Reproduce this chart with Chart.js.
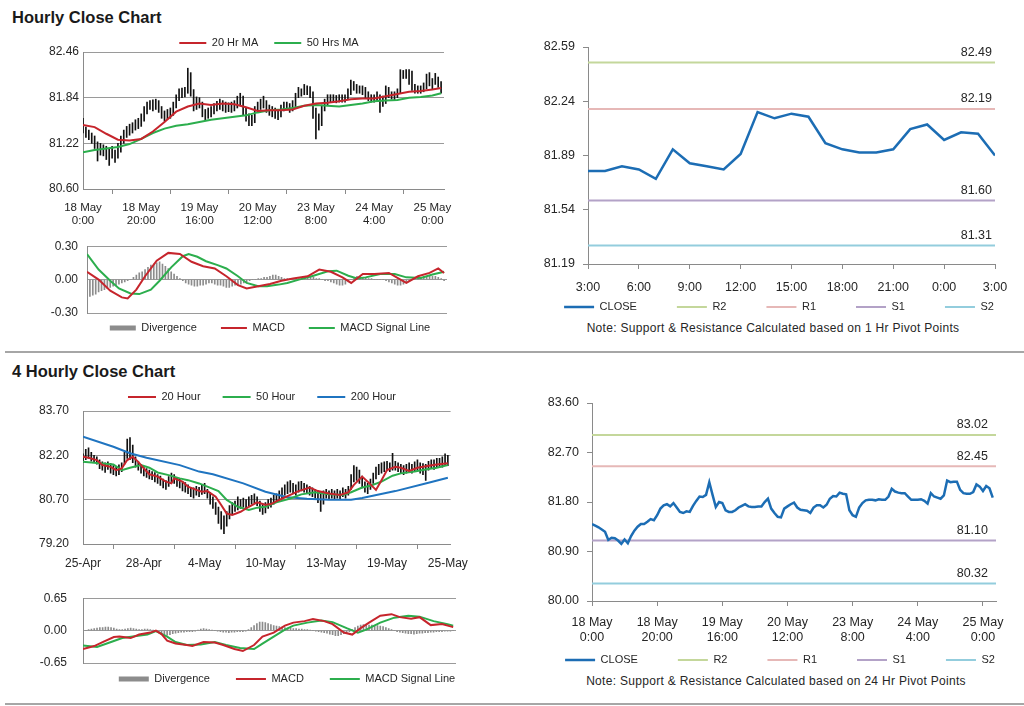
<!DOCTYPE html>
<html><head><meta charset="utf-8">
<script src="https://cdn.jsdelivr.net/npm/chart.js@4.4.0/dist/chart.umd.min.js"></script>
<style>
body{margin:0;width:1024px;height:706px;background:#fff;position:relative;overflow:hidden;font-family:"Liberation Sans",Arial,sans-serif;color:#262626}
canvas{position:absolute}
.title{position:absolute;left:12px;font-weight:bold;font-size:16.5px;line-height:20px;color:#1a1a1a}
.sep{position:absolute;left:5px;width:1019px;height:2px;background:#a6a6a6}
.note{position:absolute;font-size:12px;line-height:16px;text-align:center;white-space:nowrap;width:440px;letter-spacing:0.3px}
</style></head><body>
<div class="title" style="top:7px">Hourly Close Chart</div>
<div class="sep" style="top:351px"></div>
<div class="title" style="top:361px">4 Hourly Close Chart</div>
<div class="sep" style="top:703px"></div>
<div class="note" style="left:553px;top:320px">Note: Support &amp; Resistance Calculated based on 1 Hr Pivot Points</div>
<div class="note" style="left:556px;top:673px">Note: Support &amp; Resistance Calculated based on 24 Hr Pivot Points</div>
<canvas id="cA" width="470" height="210" style="left:0;top:25px"></canvas>
<canvas id="cB" width="470" height="110" style="left:0;top:230px"></canvas>
<canvas id="cC" width="600" height="310" style="left:525px;top:30px"></canvas>
<canvas id="cD" width="475" height="200" style="left:0;top:380px"></canvas>
<canvas id="cE" width="475" height="120" style="left:0;top:575px"></canvas>
<canvas id="cF" width="600" height="310" style="left:525px;top:385px"></canvas>
<script>
// ---------- Hourly data (18 May 0:00 -> 25 May), 124 hourly bars ----------
const hrTickPos = [0, 20, 40, 60, 80, 100, 120];
const hrTickLabels = [['18 May','0:00'],['18 May','20:00'],['19 May','16:00'],['20 May','12:00'],['23 May','8:00'],['24 May','4:00'],['25 May','0:00']];
const hrYTicks = [80.60, 81.22, 81.84, 82.46];
const hrHigh = [
81.56,81.44,81.40,81.36,81.32,81.24,81.22,81.20,81.18,81.14,
81.18,81.13,81.22,81.32,81.40,81.45,81.48,81.50,81.54,81.56,
81.62,81.72,81.78,81.80,81.81,81.82,81.80,81.72,81.66,81.68,
81.70,81.78,81.88,81.96,81.97,81.98,82.24,82.18,81.95,81.85,
81.84,81.78,81.68,81.70,81.72,81.76,81.79,81.82,81.80,81.78,
81.77,81.78,81.80,81.86,81.90,81.86,81.70,81.62,81.60,81.72,
81.78,81.82,81.86,81.80,81.74,81.72,81.70,81.68,81.74,81.78,
81.78,81.76,81.80,81.90,81.98,81.96,82.02,82.00,81.99,81.92,
81.70,81.62,81.74,81.82,81.88,81.88,81.88,81.87,81.88,81.88,
81.88,81.96,82.08,82.06,82.02,82.00,82.00,81.98,81.92,81.88,
81.88,81.92,81.88,81.86,82.00,81.98,81.92,81.92,81.96,82.22,
82.21,82.22,82.22,82.20,82.02,82.00,82.00,82.04,82.16,82.18,
82.10,82.17,82.12,82.06];
const hrLow = [
81.36,81.30,81.27,81.22,81.15,80.98,81.06,81.05,81.00,80.92,
81.02,80.96,81.02,81.10,81.22,81.30,81.33,81.36,81.40,81.42,
81.45,81.52,81.62,81.68,81.66,81.68,81.64,81.56,81.52,81.55,
81.56,81.60,81.70,81.80,81.84,81.85,81.90,81.86,81.66,81.68,
81.70,81.58,81.54,81.56,81.58,81.62,81.66,81.68,81.66,81.64,
81.65,81.64,81.66,81.70,81.74,81.60,81.52,81.46,81.46,81.50,
81.64,81.68,81.70,81.64,81.60,81.58,81.56,81.54,81.58,81.66,
81.68,81.64,81.66,81.72,81.84,81.86,81.88,81.88,81.84,81.56,
81.28,81.40,81.46,81.66,81.74,81.78,81.78,81.77,81.78,81.78,
81.78,81.82,81.88,81.94,81.90,81.90,81.88,81.84,81.80,81.78,
81.78,81.80,81.64,81.72,81.76,81.84,81.82,81.80,81.84,81.90,
82.10,82.10,82.02,81.94,81.90,81.90,81.90,81.92,81.96,82.00,
81.96,82.02,81.98,81.90];
const hrClose = [
81.40,81.37,81.34,81.30,81.26,81.11,81.15,81.14,81.10,81.04,
81.12,81.05,81.18,81.28,81.35,81.40,81.40,81.44,81.49,81.47,
81.56,81.68,81.74,81.76,81.72,81.78,81.70,81.62,81.60,81.63,
81.62,81.73,81.82,81.90,81.89,81.93,82.16,81.93,81.71,81.80,
81.78,81.65,81.62,81.62,81.65,81.70,81.73,81.76,81.72,81.71,
81.71,81.72,81.72,81.80,81.86,81.68,81.60,81.53,81.52,81.68,
81.72,81.76,81.79,81.70,81.66,81.65,81.64,81.60,81.70,81.74,
81.74,81.70,81.75,81.86,81.91,81.90,81.97,81.95,81.94,81.65,
81.56,81.53,81.70,81.78,81.83,81.84,81.84,81.83,81.85,81.84,
81.84,81.90,82.04,81.99,81.97,81.96,81.96,81.90,81.84,81.84,
81.84,81.85,81.82,81.77,81.96,81.90,81.88,81.86,81.92,82.19,
82.16,82.17,82.17,82.02,81.96,81.95,81.95,81.98,82.12,82.08,
82.00,82.09,82.05,81.88];
const hrMaIdx = [0,4,8,12,16,20,24,28,32,36,40,44,48,52,56,60,64,68,72,76,80,84,88,92,96,100,104,108,112,116,120,123];
const hrMa20 = [81.47,81.44,81.35,81.27,81.26,81.28,81.38,81.51,81.65,81.72,81.76,81.74,81.76,81.75,81.71,81.66,81.67,81.67,81.68,81.73,81.76,81.77,81.79,81.82,81.83,81.83,81.86,81.89,81.92,81.93,81.95,81.97];
const hrMa50 = [81.10,81.13,81.15,81.17,81.21,81.28,81.36,81.42,81.46,81.48,81.51,81.54,81.56,81.58,81.60,81.64,81.67,81.68,81.70,81.73,81.74,81.73,81.72,81.74,81.76,81.79,81.80,81.81,81.84,81.85,81.87,81.90];
const hrMacdYTicks = [-0.30, 0.00, 0.30];
const hrMacdIdx = [0,4,8,12,14,17,20,24,28,32,36,40,44,48,52,55,59,63,67,71,76,80,84,88,91,95,99,104,108,110,114,118,121,123];
const hrMacd = [0.07,0.00,-0.10,-0.16,-0.17,-0.09,0.03,0.17,0.24,0.23,0.16,0.12,0.10,0.03,-0.05,-0.08,-0.06,-0.04,-0.01,0.01,0.03,0.09,0.07,0.02,-0.03,0.05,0.05,0.06,0.00,-0.03,0.03,0.06,0.10,0.06];
const hrSigIdx = [0,4,8,11,15,18,22,25,29,33,35,38,41,45,48,52,55,59,62,66,69,73,78,83,86,90,93,96,101,106,110,115,119,123];
const hrSig = [0.23,0.09,-0.01,-0.08,-0.125,-0.13,-0.09,-0.01,0.11,0.21,0.23,0.205,0.165,0.13,0.10,0.03,-0.03,-0.06,-0.06,-0.045,-0.03,0.00,0.035,0.075,0.08,0.035,0.01,0.02,0.05,0.05,0.02,0.015,0.045,0.07];
const hrDiv = [
-0.16,-0.15,-0.14,-0.13,-0.11,-0.10,-0.09,-0.08,-0.07,-0.06,
-0.05,-0.04,-0.03,-0.02,-0.01,0.00,0.02,0.04,0.06,0.07,
0.09,0.11,0.13,0.14,0.15,0.16,0.14,0.12,0.10,0.07,
0.05,0.03,0.01,-0.01,-0.03,-0.04,-0.05,-0.06,-0.06,-0.05,
-0.05,-0.04,-0.03,-0.03,-0.04,-0.05,-0.05,-0.06,-0.07,-0.07,
-0.06,-0.05,-0.05,-0.04,-0.03,-0.02,-0.01,0.00,0.00,0.01,
0.01,0.02,0.02,0.03,0.04,0.04,0.03,0.02,0.01,0.01,
0.01,0.01,0.01,0.01,0.02,0.02,0.02,0.02,0.02,0.01,
0.01,0.00,-0.01,-0.01,-0.02,-0.03,-0.04,-0.05,-0.05,-0.04,
-0.02,0.00,0.02,0.03,0.03,0.02,0.02,0.01,0.01,0.00,
0.00,0.00,0.00,-0.01,-0.02,-0.03,-0.04,-0.05,-0.05,-0.04,
-0.03,-0.01,0.00,0.01,0.02,0.02,0.03,0.03,0.03,0.03,
0.03,0.02,0.01,-0.01];

// ---------- 1 Hr pivot chart (3:00 -> 3:00) ----------
const dayTickPos = [0,3,6,9,12,15,18,21,24];
const dayTickLabels = ['3:00','6:00','9:00','12:00','15:00','18:00','21:00','0:00','3:00'];
const dayYTicks = [81.19, 81.54, 81.89, 82.24, 82.59];
const dayClose = [81.79,81.79,81.82,81.80,81.74,81.93,81.84,81.82,81.80,81.90,82.17,82.13,82.16,82.14,81.97,81.93,81.91,81.91,81.93,82.06,82.09,81.99,82.04,82.03,81.89];
const pivotNames = ['R2','R1','S1','S2'];
const pivot1Hr = [82.49, 82.19, 81.60, 81.31];
const pivot24Hr = [83.02, 82.45, 81.10, 80.32];
const hrPivotYTicks = [80.00, 80.90, 81.80, 82.70, 83.60];

// ---------- 4 hourly data (25 Apr -> 25 May), 133 bars ----------
const h4TickPos = [0,22,44,66,88,110,132];
const h4TickLabels = ['25-Apr','28-Apr','4-May','10-May','13-May','19-May','25-May'];
const h4YTicks = [79.20, 80.70, 82.20, 83.70];
const h4High = [
82.25,82.40,82.45,82.30,82.20,82.15,82.05,81.98,81.95,81.98,
81.92,81.85,81.80,81.88,81.95,82.30,82.75,82.80,82.55,82.15,
82.00,81.90,81.82,81.75,81.70,81.65,81.62,81.55,81.50,81.40,
81.35,81.48,81.60,81.55,81.45,81.40,81.30,81.28,81.20,81.10,
81.10,81.15,81.12,81.20,81.25,81.05,80.95,80.80,80.60,80.45,
80.30,80.15,80.30,80.50,80.60,80.65,80.80,80.70,80.75,80.70,
80.80,80.85,80.90,80.80,80.65,80.55,80.60,80.70,80.75,80.85,
80.90,81.00,81.10,81.20,81.30,81.35,81.25,81.20,81.30,81.32,
81.25,81.20,81.15,81.10,81.05,81.00,80.95,81.00,81.05,81.00,
81.05,81.00,81.05,81.00,81.10,81.05,81.15,81.55,81.85,81.80,
81.70,81.50,81.30,81.25,81.40,81.60,81.80,81.90,81.95,81.98,
82.00,81.95,82.27,82.00,81.95,81.90,81.85,81.90,81.95,81.90,
81.98,82.05,81.95,81.92,81.90,82.00,82.05,82.05,82.10,82.10,
82.15,82.25,82.20];
const h4Low = [
81.95,82.05,82.10,82.00,81.95,81.90,81.75,81.70,81.62,81.72,
81.60,81.55,81.50,81.55,81.65,81.90,82.10,82.05,81.95,81.80,
81.70,81.60,81.50,81.45,81.40,81.38,81.30,81.25,81.18,81.10,
81.05,81.15,81.30,81.25,81.15,81.10,81.00,80.95,80.90,80.80,
80.75,80.85,80.80,80.88,80.90,80.75,80.55,80.40,80.20,79.90,
79.70,79.55,79.80,80.05,80.20,80.30,80.35,80.40,80.45,80.40,
80.50,80.55,80.60,80.50,80.30,80.20,80.25,80.40,80.45,80.55,
80.60,80.70,80.75,80.85,80.90,80.95,80.90,80.85,80.95,81.00,
80.95,80.90,80.85,80.80,80.75,80.60,80.30,80.55,80.75,80.70,
80.75,80.70,80.75,80.70,80.80,80.75,80.85,81.05,81.30,81.35,
81.25,81.10,80.95,80.90,81.05,81.25,81.40,81.55,81.60,81.65,
81.70,81.65,81.70,81.70,81.65,81.60,81.55,81.60,81.65,81.60,
81.65,81.70,81.60,81.55,81.35,81.70,81.75,81.72,81.78,81.80,
81.80,81.85,81.85];
const h4Ma20Idx = [0,2,5,7,10,12,14,16,18,20,22,24,27,30,32,33,36,38,41,43,45,48,50,52,54,57,60,63,66,68,71,75,78,82,85,89,93,96,98,101,103,106,108,110,113,115,118,121,125,128,132];
const h4Ma20 = [82.15,82.12,82.04,81.87,81.81,81.70,81.76,82.04,82.15,81.98,81.76,81.56,81.48,81.31,81.25,81.42,81.31,81.14,81.03,80.97,80.99,80.80,80.52,80.23,80.18,80.29,80.46,80.61,80.53,80.55,80.69,80.86,80.99,81.11,80.99,80.91,80.86,80.95,81.20,81.48,81.31,81.03,81.36,81.70,81.81,81.78,81.67,81.78,81.85,81.89,81.93];
const h4Ma50Idx = [0,6,11,14,17,21,24,27,31,35,38,42,45,49,52,56,60,63,66,70,75,79,84,89,94,97,101,104,108,112,115,120,125,128,132];
const h4Ma50 = [81.98,81.93,81.89,81.70,81.78,81.87,81.78,81.62,81.53,81.42,81.36,81.25,81.14,80.99,80.69,80.46,80.35,80.43,80.46,80.61,80.74,80.88,80.95,80.88,80.86,80.95,81.11,81.17,81.31,81.51,81.59,81.65,81.74,81.78,81.87];
const h4Ma200Idx = [0,11,17,23,35,42,47,58,66,74,81,89,97,101,113,125,132];
const h4Ma200 = [82.83,82.49,82.27,82.12,81.87,81.65,81.56,81.25,80.97,80.78,80.73,80.70,80.70,80.76,80.99,81.27,81.44];
const h4MacdYTicks = [-0.65, 0.00, 0.65];
const h4MacdIdx = [0,4,7,11,13,17,20,24,26,28,30,33,37,39,43,47,50,54,57,61,64,68,72,75,79,82,86,89,93,96,99,102,106,110,113,117,120,124,128,132];
const h4Macd = [-0.37,-0.31,-0.23,-0.13,-0.12,-0.15,-0.08,-0.04,0.00,-0.07,-0.20,-0.26,-0.29,-0.31,-0.23,-0.24,-0.29,-0.37,-0.41,-0.29,-0.12,-0.04,0.10,0.16,0.19,0.23,0.19,0.13,-0.04,-0.08,0.05,0.16,0.30,0.33,0.27,0.24,0.27,0.11,0.13,0.07];
const h4SigIdx = [0,5,10,14,19,23,26,30,33,37,42,47,51,56,61,64,68,72,75,80,85,89,94,98,101,106,111,116,120,125,130,132];
const h4Sig = [-0.30,-0.33,-0.23,-0.15,-0.11,-0.08,-0.01,-0.12,-0.23,-0.29,-0.28,-0.23,-0.29,-0.35,-0.37,-0.26,-0.12,0.02,0.10,0.16,0.20,0.17,0.05,-0.04,0.02,0.16,0.26,0.30,0.28,0.19,0.13,0.10];
const h4Div = [
-0.02,0.00,0.02,0.03,0.04,0.05,0.06,0.06,0.07,0.07,
0.06,0.05,0.03,0.02,0.02,0.03,0.04,0.05,0.04,0.03,
0.02,0.02,0.03,0.03,0.02,0.01,0.00,-0.03,-0.07,-0.10,
-0.09,-0.08,-0.06,-0.05,-0.04,-0.03,-0.03,-0.02,-0.02,-0.02,
-0.01,0.01,0.03,0.04,0.03,0.02,0.01,0.00,-0.01,-0.02,
-0.03,-0.03,-0.04,-0.03,-0.03,-0.02,-0.02,-0.02,-0.01,0.02,
0.06,0.10,0.14,0.17,0.17,0.16,0.14,0.12,0.10,0.09,
0.08,0.07,0.06,0.05,0.05,0.04,0.04,0.03,0.03,0.02,
0.02,0.01,0.00,-0.01,-0.02,-0.03,-0.04,-0.05,-0.07,-0.08,
-0.10,-0.10,-0.08,-0.06,-0.04,-0.02,0.02,0.06,0.09,0.11,
0.12,0.12,0.11,0.11,0.10,0.10,0.09,0.08,0.06,0.04,
0.02,0.00,-0.02,-0.03,-0.04,-0.05,-0.06,-0.06,-0.07,-0.06,
-0.05,-0.05,-0.04,-0.04,-0.03,-0.03,-0.02,-0.02,-0.02,-0.01,
-0.01,-0.01,0.00];

// ---------- styling ----------
Chart.defaults.font.family = '"Liberation Sans", Arial, sans-serif';
Chart.defaults.color = '#262626';
Chart.defaults.animation = false;
const GRID = '#9a9a9a', AXIS = '#8a8a8a';
const RED = '#c6252c', GREEN = '#2cae4d', BLUE = '#1f74c0', CLOSEBLUE = '#1c6db4';
const PIVOT_COLORS = ['#c4d79b', '#e6b8b7', '#b3a2c7', '#93cddd'];

const placeLegend = {
  id: 'placeLegend',
  afterLayout(chart, args, opts) {
    const lg = chart.legend;
    if (!lg || opts.cx === undefined) return;
    const w = lg.right - lg.left;
    lg.left = opts.cx - w / 2;
    lg.right = opts.cx + w / 2;
    const lo = chart.options.plugins.legend.labels;
    lg.top = opts.cy - lo.padding - lo.font.size / 2;
    lg.bottom = lg.top + lo.font.size + 2 * lo.padding;
    lg.height = lg.bottom - lg.top;
  }
};
const pivotLabels = {
  id: 'pivotLabels',
  afterDatasetsDraw(chart, args, opts) {
    if (!opts.show) return;
    const {ctx} = chart; const x = chart.scales.x, y = chart.scales.y;
    ctx.save();
    ctx.font = opts.size + 'px "Liberation Sans", Arial, sans-serif';
    ctx.fillStyle = '#262626'; ctx.textAlign = 'right'; ctx.textBaseline = 'middle';
    chart.data.datasets.forEach(ds => {
      if (ds.pivotValue === undefined) return;
      ctx.fillText(ds.pivotValue.toFixed(2), x.right - opts.inset, y.getPixelForValue(ds.pivotValue) - opts.dy);
    });
    ctx.restore();
  }
};
Chart.register(placeLegend, pivotLabels);

const pairs = (idx, vals) => idx.map((x, k) => ({x, y: vals[k]}));
const series = vals => vals.map((y, x) => ({x, y}));
const ranges = (lo, hi) => hi.map((h, x) => ({x, y: [lo[x], h]}));
const setTicks = vals => s => { s.ticks = vals.map(v => ({value: v})); };
const lineDs = (label, data, color, w) => ({type: 'line', label, data, borderColor: color, backgroundColor: color, borderWidth: w || 2, pointRadius: 0, pointHoverRadius: 0, pointStyle: 'line', spanGaps: true, tension: 0, order: 1});

function legendCfg(size, pad, boxW) {
  return {display: true, position: 'top', maxHeight: 0.01,
    labels: {usePointStyle: true, pointStyleWidth: boxW, boxHeight: 5, padding: pad, font: {size}, color: '#262626',
      filter: (it, data) => !data.datasets[it.datasetIndex].noLegend,
      sort: (a, b) => a.datasetIndex - b.datasetIndex}};
}

function priceChart(id, o) {
  const scales = {
    x: {type: 'linear', min: 0, max: o.xmax, offset: false,
      afterBuildTicks: setTicks(o.xTickPos), afterFit: s => { s.height = o.xh; },
      grid: {drawOnChartArea: false, drawTicks: true, tickLength: 5, color: AXIS},
      border: {display: true, color: AXIS},
      ticks: {autoSkip: false, maxRotation: 0, font: {size: o.xFont, lineHeight: o.xLh || 1.2}, padding: o.xPad,
        callback: v => o.xLabels[o.xTickPos.indexOf(v)]}},
    y: {min: o.yTicks[0], max: o.yTicks[o.yTicks.length - 1],
      afterBuildTicks: setTicks(o.yTicks), afterFit: s => { s.width = o.yw; },
      grid: o.yGrid ? {color: GRID, drawTicks: false} : {drawOnChartArea: false, drawTicks: true, tickLength: 5, color: AXIS},
      border: {display: true, color: AXIS},
      ticks: {font: {size: o.yFont}, padding: o.yPad, callback: v => v.toFixed(2)}}
  };
  if (o.rw) {
    scales.yr = {position: 'right', display: true, min: 0, max: 1, afterFit: s => { s.width = o.rw; },
      grid: {display: false, drawTicks: false}, border: {display: false}, ticks: {display: false}};
  }
  return new Chart(document.getElementById(id), {
    type: 'line',
    data: {datasets: o.datasets},
    options: {
      responsive: false, events: [],
      layout: {padding: {top: o.pt, right: o.pr, left: 0, bottom: 0}},
      scales,
      plugins: {legend: legendCfg(11, o.lpad, o.lbox), placeLegend: {cx: o.lcx, cy: o.lcy}, tooltip: {enabled: false},
        pivotLabels: o.pivot || {show: false}}
    }
  });
}

function macdChart(id, o) {
  return new Chart(document.getElementById(id), {
    type: 'line',
    data: {datasets: [
      {type: 'bar', label: 'Divergence', data: series(o.div), backgroundColor: '#8c8c8c', borderWidth: 0, barThickness: 1, pointStyle: 'rect', order: 2},
      Object.assign(lineDs('MACD', pairs(o.mIdx, o.m), RED), {order: 1}),
      Object.assign(lineDs('MACD Signal Line', pairs(o.sIdx, o.s), GREEN), {order: 1})
    ]},
    options: {
      responsive: false, events: [],
      layout: {padding: {top: o.pt, right: o.pr, left: 0, bottom: o.pb}},
      scales: {
        x: {type: 'linear', display: false, min: 0, max: o.xmax, offset: false},
        y: {min: o.yTicks[0], max: o.yTicks[2], afterBuildTicks: setTicks(o.yTicks), afterFit: s => { s.width = o.yw; },
          grid: {color: GRID, drawTicks: false}, border: {display: true, color: AXIS},
          ticks: {font: {size: 12}, padding: o.yPad, callback: v => v.toFixed(2)}}
      },
      plugins: {legend: legendCfg(11, o.lpad, o.lbox), placeLegend: {cx: o.lcx, cy: o.lcy}, tooltip: {enabled: false}}
    }
  });
}

function pivotDatasets(close, xmax, values) {
  const ds = [lineDs('CLOSE', series(close), CLOSEBLUE, 2.5)];
  values.forEach((v, k) => {
    ds.push(Object.assign(lineDs(pivotNames[k], [{x: 0, y: v}, {x: xmax, y: v}], PIVOT_COLORS[k], 2), {pivotValue: v}));
  });
  return ds;
}

// A: hourly price bars + MAs
priceChart('cA', {
  datasets: [
    lineDs('20 Hr MA', pairs(hrMaIdx, hrMa20), RED),
    lineDs('50 Hrs MA', pairs(hrMaIdx, hrMa50), GREEN),
    {type: 'bar', label: 'Price', data: ranges(hrLow, hrHigh), backgroundColor: '#111', borderWidth: 0, barThickness: 1, order: 2, noLegend: true}
  ],
  pt: 27, pr: 26, xh: 46, yw: 83, xmax: 124, xTickPos: hrTickPos, xLabels: hrTickLabels, xFont: 11.5, xLh: 1.13, xPad: 7,
  yTicks: hrYTicks, yGrid: true, yFont: 12, yPad: 4, lpad: 16, lbox: 27, lcx: 269, lcy: 18
});
// B: hourly MACD
macdChart('cB', {div: hrDiv, mIdx: hrMacdIdx, m: hrMacd, sIdx: hrSigIdx, s: hrSig, yTicks: hrMacdYTicks,
  pt: 7, pr: 23, pb: 27, yw: 87, xmax: 124, yPad: 9, lpad: 24, lbox: 26, lcx: 270, lcy: 98});
// C: 1 hr pivot chart
priceChart('cC', {
  datasets: pivotDatasets(dayClose, 24, pivot1Hr),
  pt: 17, pr: 0, rw: 130, xh: 76, yw: 63, xmax: 24, xTickPos: dayTickPos, xLabels: dayTickLabels, xFont: 12.5, xPad: 11,
  yTicks: dayYTicks, yGrid: false, yFont: 12.5, yPad: 8, lpad: 40, lbox: 30, lcx: 254, lcy: 277,
  pivot: {show: true, size: 12.5, inset: 3, dy: 10}
});
// D: 4 hourly price bars + MAs
priceChart('cD', {
  datasets: [
    lineDs('20 Hour', pairs(h4Ma20Idx, h4Ma20), RED),
    lineDs('50 Hour', pairs(h4Ma50Idx, h4Ma50), GREEN),
    lineDs('200 Hour', pairs(h4Ma200Idx, h4Ma200), BLUE),
    {type: 'bar', label: 'Price', data: ranges(h4Low, h4High), backgroundColor: '#111', borderWidth: 0, barThickness: 1, order: 2, noLegend: true}
  ],
  pt: 31, pr: 20, xh: 36, yw: 83, xmax: 133, xTickPos: h4TickPos, xLabels: h4TickLabels, xFont: 12, xPad: 7,
  yTicks: h4YTicks, yGrid: true, yFont: 12, yPad: 14, lpad: 22, lbox: 28, lcx: 262, lcy: 17
});
// E: 4 hourly MACD
macdChart('cE', {div: h4Div, mIdx: h4MacdIdx, m: h4Macd, sIdx: h4SigIdx, s: h4Sig, yTicks: h4MacdYTicks,
  pt: 10, pr: 19, pb: 32, yw: 83, xmax: 133, yPad: 16, lpad: 26, lbox: 30, lcx: 287, lcy: 104});
// F: 24 hr pivot chart over hourly closes
priceChart('cF', {
  datasets: pivotDatasets(hrClose, 124, pivot24Hr),
  pt: 18, pr: 0, rw: 129, xh: 94, yw: 67, xmax: 124, xTickPos: hrTickPos, xLabels: hrTickLabels, xFont: 12.5, xLh: 1.2, xPad: 9,
  yTicks: hrPivotYTicks, yGrid: false, yFont: 12.5, yPad: 8, lpad: 40, lbox: 30, lcx: 255, lcy: 275,
  pivot: {show: true, size: 12.5, inset: 8, dy: 10}
});
</script>
</body></html>
